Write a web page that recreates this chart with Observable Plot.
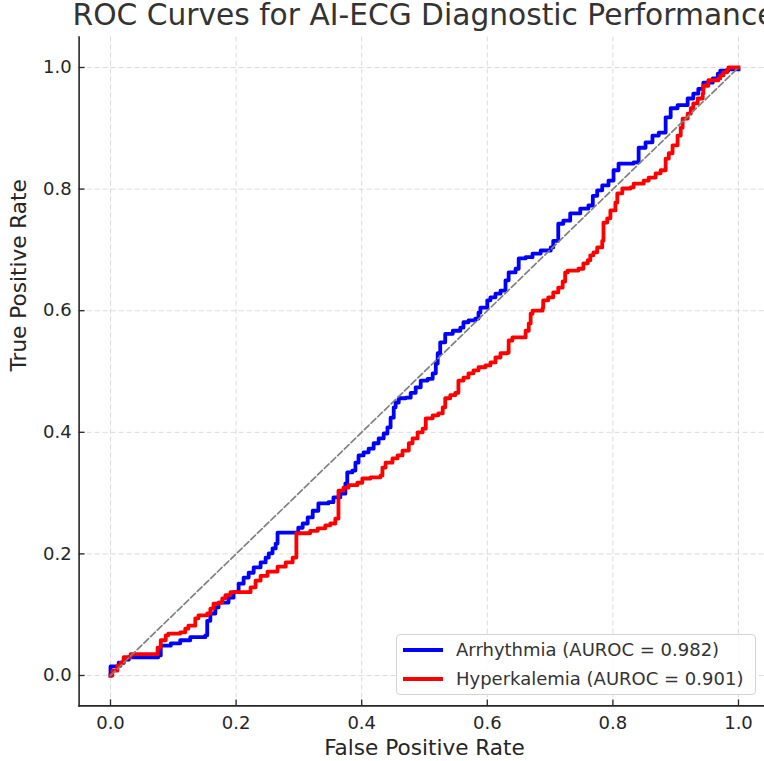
<!DOCTYPE html>
<html>
<head>
<meta charset="utf-8">
<script src="https://cdn.jsdelivr.net/npm/d3@7"></script>
<script src="https://cdn.jsdelivr.net/npm/@observablehq/plot@0.6"></script>
<style>
  html, body { margin: 0; padding: 0; background: #fff; overflow: hidden; }
  #wrap { position: relative; width: 764px; height: 761px; overflow: hidden; font-family: "DejaVu Sans", sans-serif; color: #262626; }
  #title { position: absolute; left: 0; top: 0px; width: 848px; text-align: center; white-space: nowrap; font-size: 29.7px; line-height: 1; color: #333; }
  #legend { position: absolute; left: 396px; top: 634px; width: 360px; height: 61px; border: 1px solid #d4d4d4; border-radius: 4px; background: rgba(255,255,255,0.85); box-sizing: border-box; }
  .row { position: absolute; left: 0; height: 20px; width: 100%; }
  .swatch { position: absolute; left: 6px; top: 8px; width: 40px; height: 4px; }
  .lab { position: absolute; left: 59px; top: 0; font-size: 18px; line-height: 20px; white-space: nowrap; color: #333; }
</style>
</head>
<body>
<div id="wrap">
  <div id="chart"></div>
  <div id="title"></div>
  <div id="legend"></div>
</div>
<script>
const titleText = "ROC Curves for AI-ECG Diagnostic Performance";
const xLabel = "False Positive Rate";
const yLabel = "True Positive Rate";
const tickValues = [0, 0.2, 0.4, 0.6, 0.8, 1.0];
const seriesNames = ["Arrhythmia (AUROC = 0.982)", "Hyperkalemia (AUROC = 0.901)"];
const seriesColors = ["#0000ff", "#ff0000"];
const diagFpr = [0, 1];
const diagTpr = [0, 1];

const arrhythmiaFpr = [0,0,0.013,0.021,0.029,0.076,0.080,0.096,0.111,0.127,0.151,0.154,0.159,0.167,0.172,0.188,0.196,0.204,0.212,0.220,0.228,0.239,0.247,0.252,0.258,0.263,0.266,0.299,0.306,0.314,0.322,0.331,0.347,0.355,0.366,0.374,0.377,0.385,0.390,0.395,0.403,0.411,0.419,0.427,0.435,0.441,0.446,0.451,0.454,0.459,0.470,0.478,0.486,0.494,0.505,0.513,0.518,0.521,0.525,0.533,0.545,0.557,0.562,0.570,0.581,0.586,0.589,0.600,0.605,0.613,0.621,0.629,0.634,0.645,0.650,0.661,0.672,0.685,0.701,0.705,0.713,0.721,0.732,0.748,0.761,0.768,0.775,0.783,0.793,0.801,0.809,0.833,0.841,0.852,0.863,0.873,0.884,0.892,0.903,0.919,0.928,0.936,0.944,0.959,0.967,0.971,0.984,1.0];
const arrhythmiaTpr = [0,0.015,0.021,0.026,0.030,0.033,0.049,0.053,0.058,0.063,0.066,0.090,0.102,0.112,0.120,0.128,0.137,0.151,0.161,0.169,0.178,0.186,0.194,0.201,0.209,0.217,0.235,0.243,0.250,0.260,0.271,0.283,0.285,0.293,0.299,0.316,0.334,0.337,0.350,0.362,0.367,0.373,0.382,0.390,0.398,0.408,0.424,0.441,0.449,0.456,0.457,0.465,0.474,0.485,0.488,0.497,0.513,0.530,0.548,0.562,0.567,0.572,0.581,0.584,0.587,0.597,0.605,0.617,0.622,0.628,0.633,0.650,0.663,0.669,0.686,0.688,0.694,0.699,0.704,0.715,0.743,0.748,0.760,0.768,0.773,0.789,0.798,0.806,0.814,0.831,0.842,0.844,0.868,0.877,0.888,0.893,0.918,0.933,0.938,0.949,0.957,0.965,0.975,0.982,0.990,0.995,0.997,0.997];

const hyperkalemiaFpr = [0,0.003,0.011,0.016,0.021,0.032,0.075,0.080,0.088,0.092,0.111,0.119,0.124,0.135,0.140,0.154,0.159,0.164,0.172,0.178,0.183,0.191,0.223,0.231,0.239,0.250,0.266,0.279,0.290,0.296,0.318,0.330,0.342,0.350,0.358,0.363,0.371,0.379,0.393,0.401,0.414,0.430,0.433,0.438,0.449,0.457,0.465,0.475,0.481,0.489,0.497,0.502,0.513,0.522,0.529,0.533,0.541,0.549,0.554,0.562,0.570,0.578,0.586,0.597,0.605,0.613,0.621,0.632,0.634,0.640,0.661,0.666,0.669,0.672,0.688,0.689,0.697,0.705,0.713,0.720,0.724,0.728,0.745,0.753,0.760,0.764,0.769,0.775,0.783,0.785,0.791,0.796,0.804,0.807,0.815,0.828,0.833,0.849,0.857,0.868,0.876,0.884,0.889,0.895,0.903,0.908,0.911,0.919,0.924,0.928,0.935,0.943,0.944,0.952,0.968,0.971,0.976,0.982,0.984,1.0];
const hyperkalemiaTpr = [0,0.008,0.016,0.021,0.030,0.035,0.046,0.058,0.066,0.069,0.071,0.077,0.082,0.094,0.099,0.102,0.110,0.118,0.120,0.127,0.132,0.137,0.145,0.156,0.164,0.171,0.179,0.186,0.194,0.234,0.238,0.242,0.247,0.250,0.258,0.304,0.309,0.313,0.317,0.324,0.326,0.329,0.342,0.350,0.357,0.362,0.370,0.382,0.390,0.400,0.406,0.423,0.428,0.431,0.441,0.456,0.461,0.465,0.485,0.490,0.497,0.502,0.507,0.510,0.515,0.523,0.530,0.531,0.551,0.556,0.567,0.579,0.595,0.600,0.604,0.617,0.622,0.630,0.638,0.648,0.663,0.666,0.669,0.678,0.683,0.691,0.696,0.704,0.715,0.745,0.752,0.765,0.778,0.793,0.801,0.803,0.809,0.814,0.819,0.826,0.831,0.850,0.859,0.872,0.888,0.901,0.916,0.924,0.933,0.941,0.949,0.957,0.970,0.979,0.982,0.987,0.992,0.997,1.0,1.0];

const arrhythmia = arrhythmiaFpr.map((x, i) => ({fpr: x, tpr: arrhythmiaTpr[i]}));
const hyperkalemia = hyperkalemiaFpr.map((x, i) => ({fpr: x, tpr: hyperkalemiaTpr[i]}));
const diagonal = diagFpr.map((x, i) => ({fpr: x, tpr: diagTpr[i]}));

const ink = "#262626";
const fmt = d3.format(".1f");

const chart = Plot.plot({
  width: 764,
  height: 761,
  marginLeft: 78.6,
  marginRight: -5.4,
  marginTop: 36.6,
  marginBottom: 55.6,
  style: {fontFamily: "DejaVu Sans, sans-serif", background: "#fff", color: ink, overflow: "visible"},
  x: {domain: [-0.05, 1.05], label: null},
  y: {domain: [-0.05, 1.05], label: null},
  marks: [
    Plot.gridX(tickValues, {stroke: "#b0b0b0", strokeOpacity: 0.45, strokeWidth: 1, strokeDasharray: "5,3"}),
    Plot.gridY(tickValues, {stroke: "#b0b0b0", strokeOpacity: 0.45, strokeWidth: 1, strokeDasharray: "5,3"}),
    Plot.axisX(tickValues, {tickSize: -6, tickPadding: 16, tickFormat: fmt, fontSize: 18, color: ink, strokeWidth: 1.3, label: null}),
    Plot.axisY(tickValues, {tickSize: -6, tickPadding: 13.5, tickFormat: fmt, fontSize: 18, color: ink, strokeWidth: 1.3, label: null}),
    Plot.frame({anchor: "left", stroke: ink, strokeWidth: 1.6}),
    Plot.frame({anchor: "bottom", stroke: ink, strokeWidth: 1.6}),
    Plot.line(arrhythmia, {x: "fpr", y: "tpr", curve: "step-after", stroke: seriesColors[0], strokeWidth: 3.8, strokeLinejoin: "round", strokeLinecap: "square"}),
    Plot.line(hyperkalemia, {x: "fpr", y: "tpr", curve: "step-after", stroke: seriesColors[1], strokeWidth: 3.8, strokeLinejoin: "round", strokeLinecap: "square"}),
    Plot.line(diagonal, {x: "fpr", y: "tpr", stroke: "#808080", strokeWidth: 1.7, strokeDasharray: "6.5,2.8"}),
    Plot.text([xLabel], {frameAnchor: "bottom", lineAnchor: "top", dy: 33.5, fontSize: 21.6, fill: ink, text: d => d}),
    Plot.text([yLabel], {frameAnchor: "left", lineAnchor: "top", rotate: -90, dx: -68, fontSize: 21.6, fill: ink, text: d => d})
  ]
});
document.getElementById("chart").appendChild(chart);
document.getElementById("title").textContent = titleText;

const legend = document.getElementById("legend");
seriesNames.forEach((name, i) => {
  const row = document.createElement("div");
  row.className = "row";
  row.style.top = (5 + i * 29) + "px";
  const sw = document.createElement("div");
  sw.className = "swatch";
  sw.style.background = seriesColors[i];
  const lab = document.createElement("div");
  lab.className = "lab";
  lab.textContent = name;
  row.appendChild(sw);
  row.appendChild(lab);
  legend.appendChild(row);
});
</script>
</body>
</html>
